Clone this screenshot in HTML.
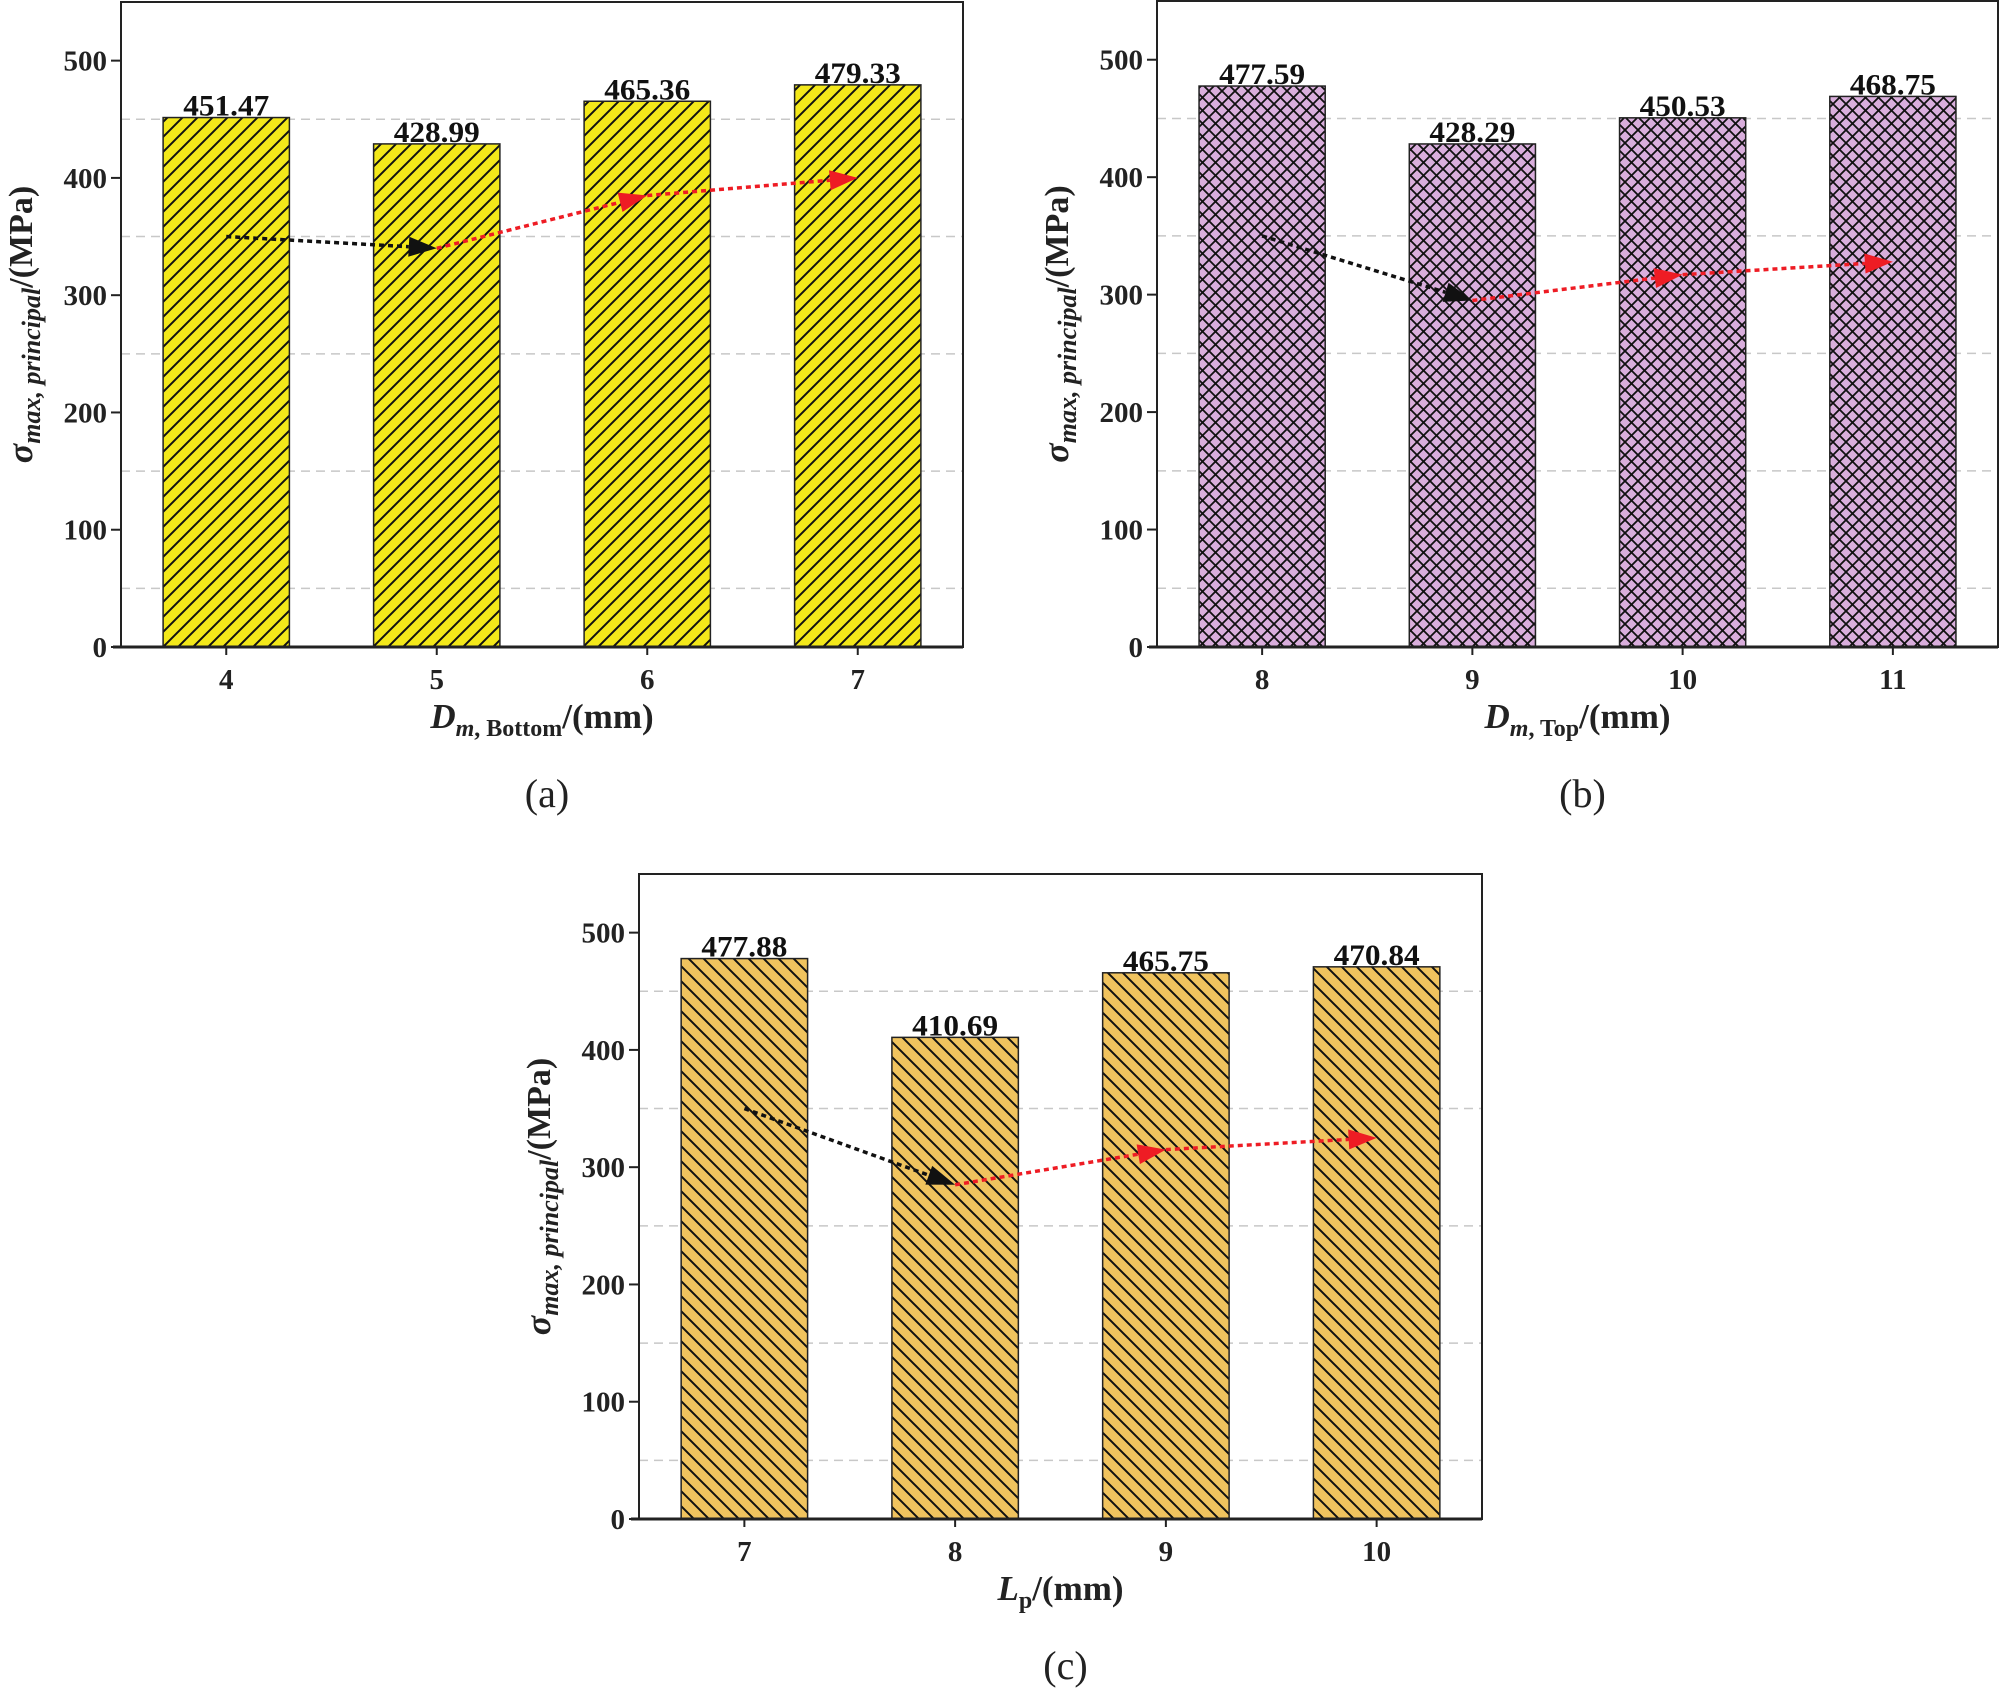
<!DOCTYPE html>
<html><head><meta charset="utf-8">
<style>
html,body{margin:0;padding:0;background:#fff;}
svg{display:block;font-family:"Liberation Serif",serif;}
</style></head>
<body>
<svg id="fig" width="2001" height="1691" viewBox="0 0 2001 1691" xmlns="http://www.w3.org/2000/svg">
<defs>
<pattern id="hatchA" patternUnits="userSpaceOnUse" width="15" height="15">
<rect width="15" height="15" fill="#f3e81a"/>
<path d="M-3,3 L3,-3 M0,15 L15,0 M12,18 L18,12" stroke="#111" stroke-width="2"/>
</pattern>
<pattern id="hatchB" patternUnits="userSpaceOnUse" width="13" height="13">
<rect width="13" height="13" fill="#d9aedc"/>
<path d="M0,13 L13,0 M-3,3 L3,-3 M10,16 L16,10 M0,0 L13,13 M-3,10 L3,16 M10,-3 L16,3" stroke="#111" stroke-width="1.8"/>
</pattern>
<pattern id="hatchC" patternUnits="userSpaceOnUse" width="15" height="15">
<rect width="15" height="15" fill="#f0c35e"/>
<path d="M0,0 L15,15 M-3,12 L3,18 M12,-3 L18,3" stroke="#111" stroke-width="2"/>
</pattern>
</defs>
</svg>
<script>
// Panel (a)
const catsA = ["4","5","6","7"];
const valsA = [451.47, 428.99, 465.36, 479.33];
const trendA = [350, 340, 385, 400];
// Panel (b)
const catsB = ["8","9","10","11"];
const valsB = [477.59, 428.29, 450.53, 468.75];
const trendB = [350, 295, 317, 328];
// Panel (c)
const catsC = ["7","8","9","10"];
const valsC = [477.88, 410.69, 465.75, 470.84];
const trendC = [350, 285, 315, 325];
const yTicks = [0, 100, 200, 300, 400, 500];
const yGrid = [50, 150, 250, 350, 450];
const yMax = 550;

const NS = "http://www.w3.org/2000/svg";
const svg = document.getElementById('fig');
function mk(tag, attrs, parent) {
  const e = document.createElementNS(NS, tag);
  for (const k in attrs) e.setAttribute(k, attrs[k]);
  (parent || svg).appendChild(e);
  return e;
}

function panel(id, L, R, T, B, cats, vals, trend, fill, xTitleParts, caption, ylabX) {
  const g = mk('g', {});
  
  
  const y = v => B - (v / yMax) * (B - T);
  const slot = (R - L) / cats.length;
  const x = i => L + slot * (i + 0.5);
  const bw = slot * 0.6;
  yGrid.forEach(v => {
    const l = mk('line', {x1: L, x2: R, y1: y(v), y2: y(v), stroke: '#c8c8c8', 'stroke-width': 1.5, 'stroke-dasharray': '9 6'}, g);
    
    
  });
  vals.forEach((v, i) => {
    const r = mk('rect', {x: x(i) - bw / 2, y: y(v), width: bw, height: B - y(v), fill: 'url(#' + fill + ')', stroke: '#222', 'stroke-width': 1.5}, g);
    
    
    const t = mk('text', {x: x(i), y: y(v) - 2, 'text-anchor': 'middle', 'font-size': 30, 'font-weight': 'bold', fill: '#111', textLength: 86, lengthAdjust: 'spacingAndGlyphs'}, g);
    t.textContent = v.toFixed(2);
    
    
  });
  for (let i = 0; i < trend.length - 1; i++) {
    const col = i === 0 ? '#111' : '#ee1c24';
    const x1 = x(i), y1 = y(trend[i]), x2 = x(i + 1), y2 = y(trend[i + 1]);
    const ang = Math.atan2(y2 - y1, x2 - x1);
    const hl = 28, hw = 10;
    const bx = x2 - hl * Math.cos(ang), by = y2 - hl * Math.sin(ang);
    const ln = mk('line', {x1: x1, y1: y1, x2: bx, y2: by, stroke: col, 'stroke-width': 3.5, 'stroke-dasharray': '5 4'}, g);
    
    
    const px = -Math.sin(ang), py = Math.cos(ang);
    const hd = mk('polygon', {points: `${x2},${y2} ${bx + px * hw},${by + py * hw} ${bx - px * hw},${by - py * hw}`, fill: col}, g);
    
    
  }
  const fr = mk('rect', {x: L, y: T, width: R - L, height: B - T, fill: 'none', stroke: '#222', 'stroke-width': 2}, g);
  
  
  mk('line', {x1: L - 8, x2: R, y1: B, y2: B, stroke: '#222', 'stroke-width': 3}, g);
  yTicks.forEach(v => {
    mk('line', {x1: L - 10, x2: L, y1: y(v), y2: y(v), stroke: '#222', 'stroke-width': 2}, g);
    const t = mk('text', {x: L - 14, y: y(v) + 10, 'text-anchor': 'end', 'font-size': 29, 'font-weight': 'bold', fill: '#222'}, g);
    t.textContent = v;
    
    
  });
  cats.forEach((c, i) => {
    mk('line', {x1: x(i), x2: x(i), y1: B, y2: B + 8, stroke: '#222', 'stroke-width': 2}, g);
    const t = mk('text', {x: x(i), y: B + 42, 'text-anchor': 'middle', 'font-size': 29, 'font-weight': 'bold', fill: '#222'}, g);
    t.textContent = c;
    
    
  });
  const xt = mk('text', {x: (L + R) / 2, y: B + 81, 'text-anchor': 'middle', 'font-size': 35, 'font-weight': 'bold', fill: '#222'}, g);
  
  
  xTitleParts.forEach(p => {
    const s = mk('tspan', p.a || {}, xt);
    s.textContent = p.t;
  });
  const cy = (T + B) / 2;
  const yt = mk('text', {x: ylabX, y: cy, transform: `rotate(-90 ${ylabX} ${cy})`, 'text-anchor': 'middle', 'font-size': 34, 'font-weight': 'bold', fill: '#222'}, g);
  
  
  [{t: 'σ', a: {'font-style': 'italic', 'font-size': 36}},
   {t: 'max, principal', a: {'font-style': 'italic', 'font-size': 26, dy: 8}},
   {t: '/(MPa)', a: {dy: -8}}].forEach(p => {
    const s = mk('tspan', p.a, yt);
    s.textContent = p.t;
  });
  const cp = mk('text', {x: (L + R) / 2 + 5, y: B + 160, 'text-anchor': 'middle', 'font-size': 40, fill: '#222'}, g);
  cp.textContent = caption;
  
  
}

panel('a', 121, 963, 2, 647, catsA, valsA, trendA, 'hatchA',
  [{t: 'D', a: {'font-style': 'italic'}}, {t: 'm', a: {'font-style': 'italic', 'font-size': 24, dy: 8}}, {t: ', Bottom', a: {'font-size': 24}}, {t: '/(mm)', a: {dy: -8}}],
  '(a)', 32);
panel('b', 1157, 1998, 1, 647, catsB, valsB, trendB, 'hatchB',
  [{t: 'D', a: {'font-style': 'italic'}}, {t: 'm', a: {'font-style': 'italic', 'font-size': 24, dy: 8}}, {t: ', Top', a: {'font-size': 24}}, {t: '/(mm)', a: {dy: -8}}],
  '(b)', 1068);
panel('c', 639, 1482, 874, 1519, catsC, valsC, trendC, 'hatchC',
  [{t: 'L', a: {'font-style': 'italic'}}, {t: 'p', a: {'font-size': 24, dy: 8}}, {t: '/(mm)', a: {dy: -8}}],
  '(c)', 550);
</script>
</body></html>
